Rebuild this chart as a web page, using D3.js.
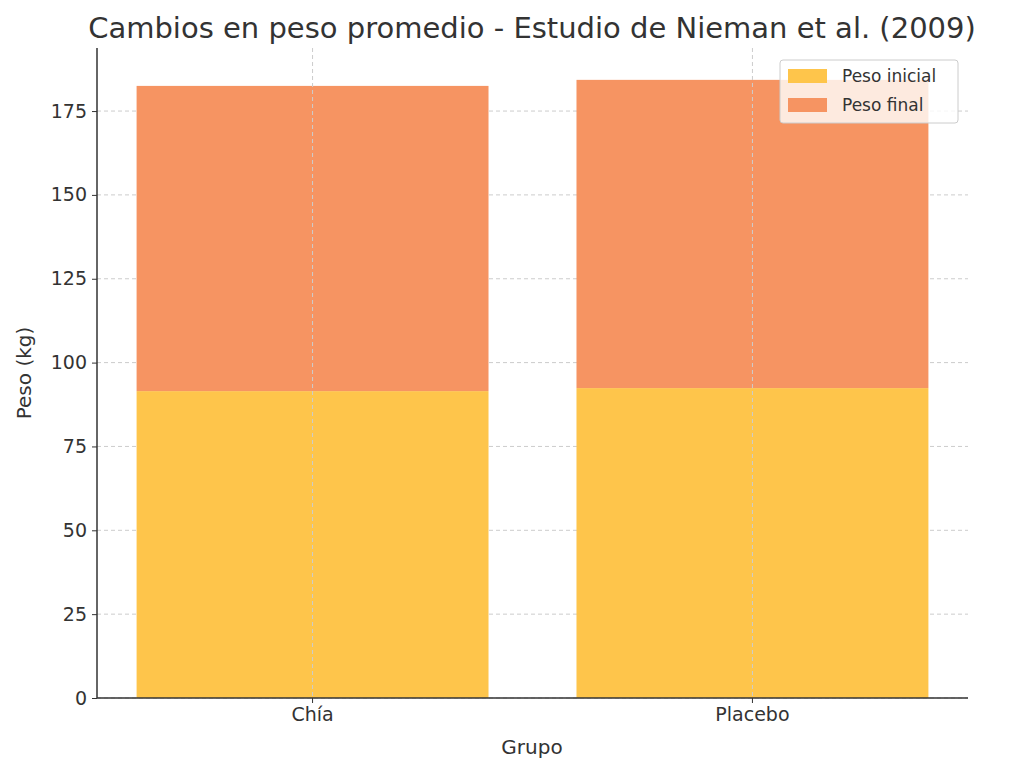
<!DOCTYPE html><html><head><meta charset="utf-8"><script src="https://cdn.jsdelivr.net/npm/d3@7"></script>
<style>body{margin:0;background:#fff}text{font-family:"DejaVu Sans",sans-serif;fill:#333}</style></head><body>
<svg id="c" width="1024" height="773"></svg>
<script>
const categories=["Chía","Placebo"];
const pesoInicial=[91.5,92.4];
const pesoFinal=[91.0,91.9];
const yTicks=[0,25,50,75,100,125,150,175];
const series=[{name:"Peso inicial",vals:pesoInicial,color:"#fec54b"},{name:"Peso final",vals:pesoFinal,color:"#f69462"}];
const svg=d3.select("#c");
const L=97,R=968,T=48,B=698;
const x=d3.scaleBand().domain(categories).range([L,R]).paddingInner(0.2).paddingOuter(0.09);
const y=d3.scaleLinear().domain([0,193.8]).range([B,T]);
// grid
svg.append("g").selectAll("line").data(yTicks).join("line").attr("x1",L).attr("x2",R).attr("y1",d=>y(d)).attr("y2",d=>y(d)).attr("stroke","#ccc").attr("stroke-dasharray","4,3");
// bars
categories.forEach((c,i)=>{let base=0;series.forEach(s=>{const v=s.vals[i];
svg.append("rect").attr("x",x(c)).attr("width",x.bandwidth()).attr("y",y(base+v)).attr("height",y(base)-y(base+v)).attr("fill",s.color);base+=v;});});
svg.append("g").selectAll("line").data(categories).join("line").attr("x1",d=>x(d)+x.bandwidth()/2).attr("x2",d=>x(d)+x.bandwidth()/2).attr("y1",T).attr("y2",B).attr("stroke","#ccc").attr("stroke-dasharray","4,3");
// axes
const ya=svg.append("g").attr("transform",`translate(${L},0)`).call(d3.axisLeft(y).tickValues(yTicks).tickSize(5).tickPadding(5));
const xa=svg.append("g").attr("transform",`translate(0,${B})`).call(d3.axisBottom(x).tickSize(5).tickPadding(5));
[ya,xa].forEach(a=>{a.select(".domain").remove();a.selectAll("text").style("font-size","19px").attr("fill","#333");a.selectAll("line").attr("stroke","#333");});
svg.append("line").attr("x1",L).attr("x2",L).attr("y1",T).attr("y2",B).attr("stroke","#333").attr("stroke-width",1.5);
svg.append("line").attr("x1",L).attr("x2",R).attr("y1",B).attr("y2",B).attr("stroke","#333").attr("stroke-width",1.5);
svg.append("text").attr("x",532).attr("y",38).attr("text-anchor","middle").style("font-size","29px").text("Cambios en peso promedio - Estudio de Nieman et al. (2009)");
svg.append("text").attr("x",532).attr("y",754).attr("text-anchor","middle").style("font-size","20px").text("Grupo");
svg.append("text").attr("transform","translate(31,373) rotate(-90)").attr("text-anchor","middle").style("font-size","20px").text("Peso (kg)");
// legend
const lg=svg.append("g").attr("transform","translate(780,60)");
lg.append("rect").attr("width",178).attr("height",63).attr("rx",3).attr("fill","rgba(255,255,255,0.8)").attr("stroke","#ccc");
series.forEach((s,i)=>{lg.append("rect").attr("x",8).attr("y",9+i*29).attr("width",39).attr("height",14).attr("fill",s.color);
lg.append("text").attr("x",62).attr("y",22+i*29).style("font-size","17px").text(s.name);});
</script></body></html>
